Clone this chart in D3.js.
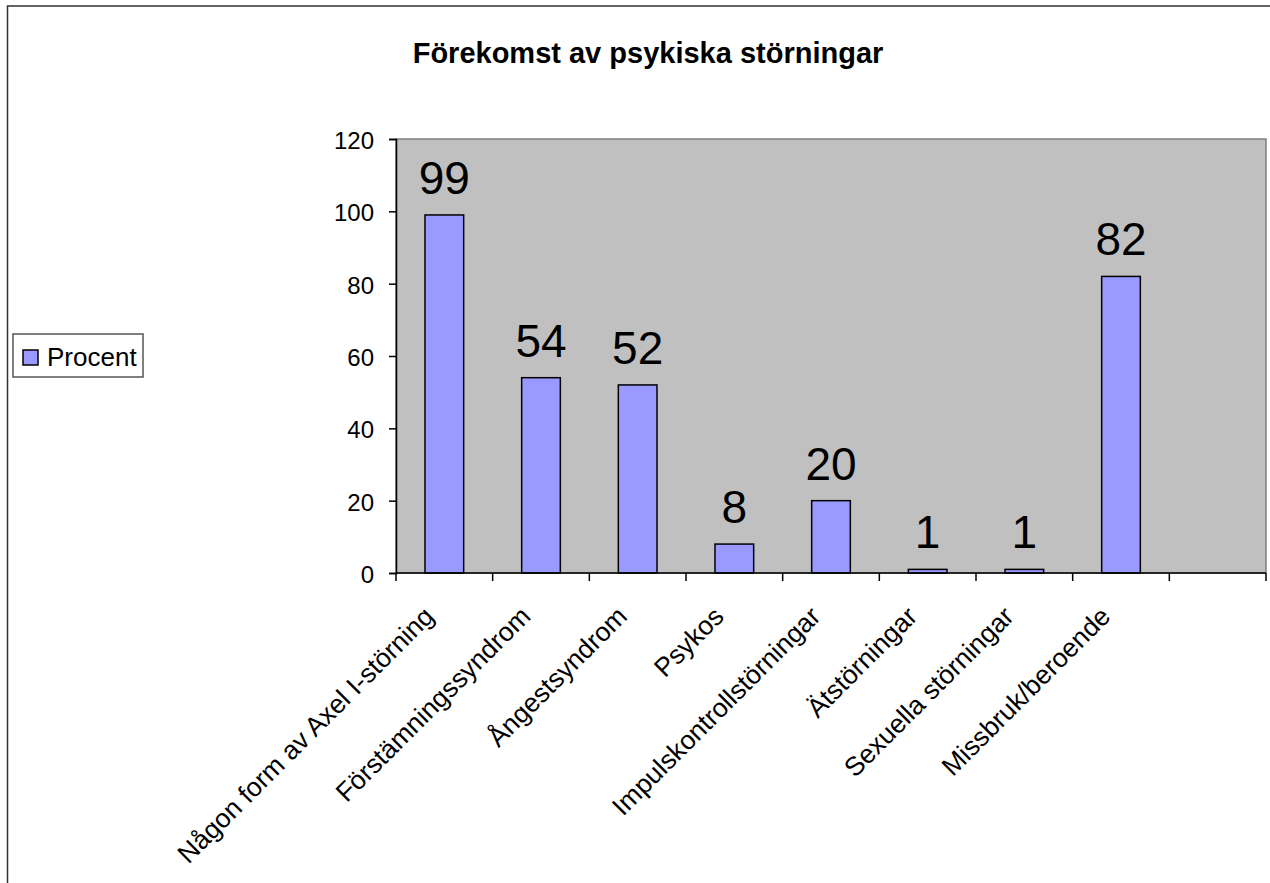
<!DOCTYPE html>
<html>
<head>
<meta charset="utf-8">
<script src="https://cdn.jsdelivr.net/npm/d3@7"></script>
<style>
  body { margin: 0; background: #fff; }
  svg text { font-family: "Liberation Sans", Arial, sans-serif; fill: #000; }
</style>
</head>
<body>
<div id="chart"></div>
<script>
// chart data
const title = "Förekomst av psykiska störningar";
const seriesName = "Procent";
const categories = [
  "Någon form av Axel I-störning",
  "Förstämningssyndrom",
  "Ångestsyndrom",
  "Psykos",
  "Impulskontrollstörningar",
  "Ätstörningar",
  "Sexuella störningar",
  "Missbruk/beroende",
  ""
];
const values = [99, 54, 52, 8, 20, 1, 1, 82];
const yTicks = [0, 20, 40, 60, 80, 100, 120];

const W = 1270, H = 883;
const margin = {top: 139, right: 4, bottom: 310, left: 396};
const width = W - margin.left - margin.right;
const height = H - margin.top - margin.bottom;

const svg = d3.select("#chart").append("svg")
  .attr("width", W)
  .attr("height", H);

// outer chart frame (right/bottom edges fall outside the picture)
svg.append("rect")
  .attr("x", 7.5).attr("y", 6)
  .attr("width", W + 20).attr("height", H + 20)
  .attr("fill", "#fff")
  .attr("stroke", "#333")
  .attr("stroke-width", 1.5);

svg.append("text")
  .attr("x", 648)
  .attr("y", 63)
  .attr("text-anchor", "middle")
  .style("font-size", "29px")
  .style("font-weight", "bold")
  .text(title);

const g = svg.append("g")
  .attr("transform", `translate(${margin.left},${margin.top})`);

const x = d3.scaleBand()
  .domain(d3.range(categories.length))
  .range([0, width])
  .paddingInner(0.6)
  .paddingOuter(0.3);

const y = d3.scaleLinear()
  .domain([0, 120])
  .range([height, 0]);

// plot area
g.append("rect")
  .attr("width", width)
  .attr("height", height)
  .attr("fill", "#c0c0c0")
  .attr("stroke", "#808080")
  .attr("stroke-width", 1.5);

// bars
g.selectAll(".bar")
  .data(values)
  .join("rect")
  .attr("class", "bar")
  .attr("x", (d, i) => x(i))
  .attr("y", d => y(d))
  .attr("width", x.bandwidth())
  .attr("height", d => height - y(d))
  .attr("fill", "#9999ff")
  .attr("stroke", "#000")
  .attr("stroke-width", 1.5);

// data labels
g.selectAll(".lbl")
  .data(values)
  .join("text")
  .attr("class", "lbl")
  .attr("x", (d, i) => x(i) + x.bandwidth() / 2)
  .attr("y", d => y(d) - 21)
  .attr("text-anchor", "middle")
  .style("font-size", "46px")
  .text(d => d);

// y axis
const yAxis = g.append("g")
  .call(d3.axisLeft(y).tickValues(yTicks).tickSize(7).tickPadding(15));
yAxis.selectAll("text").style("font-size", "24px").attr("dy", "0.4em");
yAxis.select(".domain").attr("stroke", "#000").attr("stroke-width", 1.5);
yAxis.selectAll(".tick line").attr("stroke", "#000").attr("stroke-width", 1.5);

// x axis: baseline, ticks at slot boundaries
g.append("line")
  .attr("x1", 0).attr("x2", width)
  .attr("y1", height).attr("y2", height)
  .attr("stroke", "#000").attr("stroke-width", 1.5);

g.selectAll(".xtick")
  .data(d3.range(categories.length + 1))
  .join("line")
  .attr("class", "xtick")
  .attr("x1", i => i * x.step()).attr("x2", i => i * x.step())
  .attr("y1", height).attr("y2", height + 8)
  .attr("stroke", "#000").attr("stroke-width", 1.5);

g.selectAll(".xlbl")
  .data(categories)
  .join("text")
  .attr("class", "xlbl")
  .attr("text-anchor", "end")
  .attr("transform", (d, i) => `translate(${x(i) + x.bandwidth() / 2 - 9},${height + 45}) rotate(-45)`)
  .style("font-size", "26.5px")
  .text(d => d);

// legend
const leg = svg.append("g").attr("transform", "translate(13,334)");
leg.append("rect")
  .attr("width", 130).attr("height", 43)
  .attr("fill", "#fff")
  .attr("stroke", "#555")
  .attr("stroke-width", 1.5);
leg.append("rect")
  .attr("x", 10).attr("y", 16)
  .attr("width", 15).attr("height", 15)
  .attr("fill", "#9999ff")
  .attr("stroke", "#000")
  .attr("stroke-width", 1.5);
leg.append("text")
  .attr("x", 34).attr("y", 32)
  .style("font-size", "26px")
  .text(seriesName);
</script>
</body>
</html>
